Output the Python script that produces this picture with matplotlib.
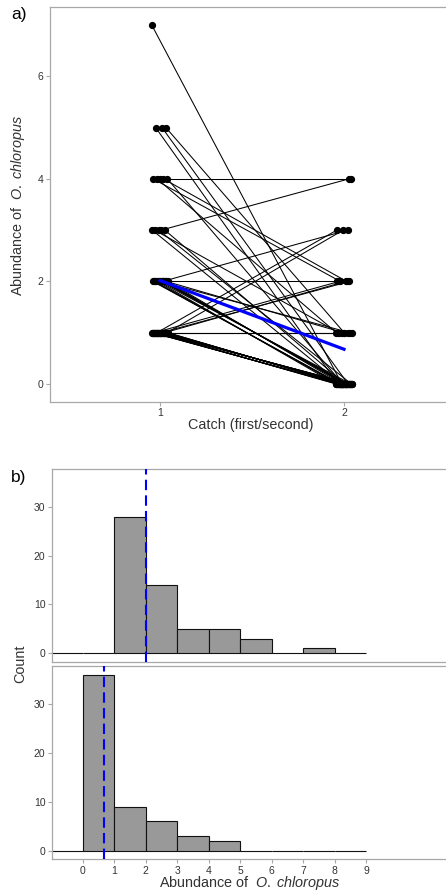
import numpy as np
import matplotlib
matplotlib.use("Agg")
import matplotlib.pyplot as plt

plt.rcParams['font.family'] = ['Liberation Sans', 'DejaVu Sans']
plt.rcParams['mathtext.fontset'] = 'custom'
plt.rcParams['mathtext.rm'] = 'Liberation Sans'
plt.rcParams['mathtext.it'] = 'Liberation Sans:italic'

# ---- data: paired abundance of O. chloropus (first catch -> second catch) ----
first_catch = [7,
               5, 5, 5,
               4, 4, 4, 4, 4,
               3, 3, 3, 3, 3,
               2, 2, 2, 2, 2, 2, 2, 2, 2, 2, 2, 2, 2, 2,
               1, 1, 1, 1, 1, 1, 1, 1, 1, 1, 1, 1, 1, 1,
               1, 1, 1, 1, 1, 1, 1, 1, 1, 1, 1, 1, 1, 1]
second_catch = [0,
                0, 0, 1,
                4, 2, 2, 1, 0,
                4, 1, 0, 0, 0,
                3, 2, 1, 1, 0, 0, 0, 0, 0, 0, 0, 0, 0, 0,
                3, 3, 2, 2, 2, 1, 1, 1, 1, 0, 0, 0, 0, 0,
                0, 0, 0, 0, 0, 0, 0, 0, 0, 0, 0, 0, 0, 0]
catch_ticks = [1, 2]
abund_ticks = [0, 2, 4, 6]
count_ticks = [0, 10, 20, 30]
hist_xticks = [0, 1, 2, 3, 4, 5, 6, 7, 8, 9]

first = np.array(first_catch, dtype=float)
second = np.array(second_catch, dtype=float)
n = len(first)
mean1, mean2 = first.mean(), second.mean()

W, H = 446, 892
fig = plt.figure(figsize=(W / 100, H / 100), dpi=100)

def ax_px(left, top, right, bottom):
    return fig.add_axes([left / W, 1 - bottom / H, (right - left) / W, (bottom - top) / H])

border = '#A8A8A8'
txt = '#333333'
species_label = r'Abundance of  $\mathit{O.\;chloropus}$'

def style(ax):
    for s in ['left', 'top', 'bottom']:
        ax.spines[s].set_color(border)
        ax.spines[s].set_linewidth(0.9)
    ax.spines['right'].set_visible(False)
    ax.tick_params(colors=border, labelcolor=txt, labelsize=7.5, length=3, width=0.8, pad=1.5)

# ---- panel a ----
axa = ax_px(49.6, 7, 454.4, 402)
idx = np.arange(n)
jit1 = 0.045 * (((idx * 0.618034) % 1.0) * 2 - 1)
jit2 = 0.045 * (((idx * 0.381966 + 0.37) % 1.0) * 2 - 1)
x1 = 1 + jit1
x2 = 2 + jit2
for i in range(n):
    axa.plot([x1[i], x2[i]], [first[i], second[i]], color='black', lw=0.75, zorder=2,
             solid_capstyle='round')
axa.plot(x1, first, 'o', color='black', ms=4.2, zorder=3)
axa.plot(x2, second, 'o', color='black', ms=4.2, zorder=3)
axa.plot([1, 2], [mean1, mean2], color='#0000FF', lw=2.3, zorder=4)
axa.set_xlim(0.4, 2.6)
axa.set_ylim(-0.35, 7.35)
axa.set_xticks(catch_ticks)
axa.set_yticks(abund_ticks)
style(axa)
fig.text(251 / W, 1 - 425 / H, 'Catch (first/second)', ha='center', va='center',
         fontsize=10.4, color=txt)
fig.text(18 / W, 1 - 205 / H, species_label, ha='center',
         va='center', rotation=90, fontsize=10.4, color=txt)
fig.text(19 / W, 1 - 15 / H, 'a)', ha='center', va='center', fontsize=12.5, color='black')

# ---- panel b ----
bins = np.arange(-1, 10)
axb1 = ax_px(51.7, 469, 454.4, 662)
axb2 = ax_px(51.7, 666, 454.4, 859.3)
for ax, vals, m in [(axb1, first, mean1), (axb2, second, mean2)]:
    ax.hist(vals, bins=bins, color='#999999', edgecolor='#111111', linewidth=0.8, zorder=2)
    ax.axvline(m, color='#0000FF', lw=1.5, dashes=(5, 2.5), zorder=3)
    ax.set_xlim(-0.985, 11.8)
    ax.set_ylim(-1.8, 37.8)
    ax.set_yticks(count_ticks)
    style(ax)
axb1.tick_params(axis='x', bottom=False, labelbottom=False)
axb2.set_xticks(hist_xticks)
fig.text(250 / W, 1 - 883 / H, species_label, ha='center',
         va='center', fontsize=10.4, color=txt)
fig.text(20 / W, 1 - 664 / H, 'Count', ha='center', va='center', rotation=90,
         fontsize=10.4, color=txt)
fig.text(19 / W, 1 - 477 / H, 'b)', ha='center', va='center', fontsize=12.5, color='black')

fig.savefig('out.png', dpi=100)
